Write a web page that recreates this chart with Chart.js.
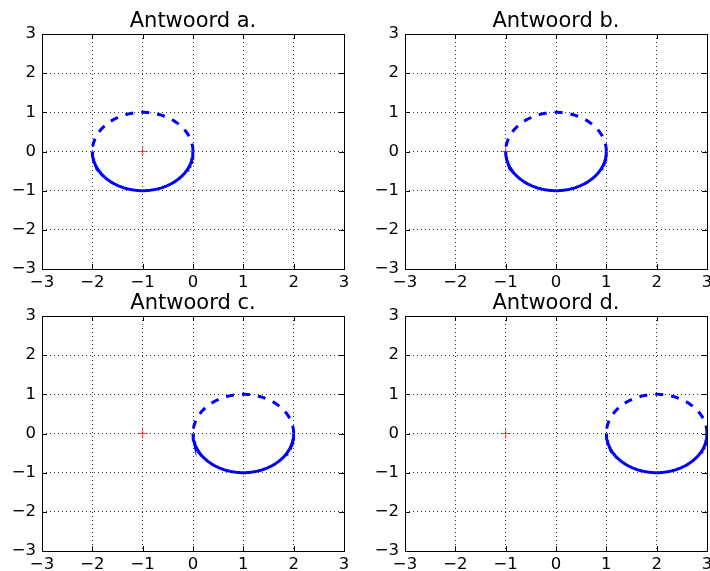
<!DOCTYPE html>
<html>
<head>
<meta charset="utf-8">
<script src="https://cdn.jsdelivr.net/npm/chart.js@4"></script>
<style>
  html, body { margin: 0; padding: 0; background: #fff; overflow: hidden; }
  body { width: 710px; height: 571px; position: relative; }
  canvas { position: absolute; }
</style>
</head>
<body>
<canvas id="panelA" width="355" height="289" style="left:0;top:0"></canvas>
<canvas id="panelB" width="355" height="289" style="left:363px;top:0"></canvas>
<canvas id="panelC" width="355" height="289" style="left:0;top:282px"></canvas>
<canvas id="panelD" width="355" height="289" style="left:363px;top:282px"></canvas>
<script>
// Data for the four panels
const panelIds = ['panelA', 'panelB', 'panelC', 'panelD'];
const panelTitles = ['Antwoord a.', 'Antwoord b.', 'Antwoord c.', 'Antwoord d.'];
const circleCentersX = [-1, 0, 1, 2];
const circleCenterY = 0;
const circleRadius = 1;
const markerX = -1;
const markerY = 0;
const tickValues = [-3, -2, -1, 0, 1, 2, 3];

const FONT = 'DejaVu Sans';

// Circle halves built from center and radius (upper goes right -> left)
const halfCircle = (cx, upper) => {
    const pts = [];
    const n = 90;
    for (let i = 0; i <= n; i++) {
        const t = Math.PI * i / n;
        const a = upper ? t : Math.PI + t;
        pts.push({ x: cx + circleRadius * Math.cos(a), y: circleCenterY + circleRadius * Math.sin(a) });
    }
    return pts;
};

const tickLabel = v => (v < 0 ? '\u2212' + Math.abs(v) : String(v));

// Axes frame + inward tick marks like classic matplotlib, title centred on the axes
const framePlugin = {
    id: 'frame',
    afterDraw(chart, args, opts) {
        const { ctx, chartArea: a, scales } = chart;
        ctx.save();
        ctx.strokeStyle = '#000';
        ctx.lineWidth = 1;
        ctx.beginPath();
        tickValues.forEach(v => {
            const px = Math.round(scales.x.getPixelForValue(v)) + 0.5;
            const py = Math.round(scales.y.getPixelForValue(v)) + 0.5;
            ctx.moveTo(px, a.bottom); ctx.lineTo(px, a.bottom - 5);
            ctx.moveTo(px, a.top); ctx.lineTo(px, a.top + 5);
            ctx.moveTo(a.left, py); ctx.lineTo(a.left + 5, py);
            ctx.moveTo(a.right, py); ctx.lineTo(a.right - 5, py);
        });
        ctx.stroke();
        ctx.strokeRect(Math.round(a.left) + 0.5, Math.round(a.top) + 0.5,
            Math.round(a.right - a.left), Math.round(a.bottom - a.top));

        // title
        ctx.fillStyle = '#000';
        ctx.font = '21px "' + FONT + '"';
        ctx.textAlign = 'center';
        ctx.textBaseline = 'alphabetic';
        ctx.fillText(opts.text, (a.left + a.right) / 2, a.top - 7);
        ctx.restore();
    }
};

const axisOptions = (isY) => ({
    type: 'linear',
    min: -3,
    max: 3,
    afterFit: scale => {
        if (isY) scale.width = 42; else scale.height = 20;
    },
    ticks: {
        stepSize: 1,
        padding: isY ? 6 : 4,
        color: '#000',
        font: { family: FONT, size: 16.5 },
        callback: v => tickLabel(v)
    },
    grid: {
        color: 'rgba(0,0,0,0.8)',
        lineWidth: 1,
        drawTicks: false
    },
    border: { display: false, dash: [1, 3] }
});

panelIds.forEach((id, i) => {
    new Chart(document.getElementById(id), {
        type: 'scatter',
        data: {
            datasets: [
                {
                    data: halfCircle(circleCentersX[i], true),
                    showLine: true,
                    borderColor: '#0000ff',
                    borderWidth: 3,
                    borderDash: [8, 8],
                    pointRadius: 0
                },
                {
                    data: halfCircle(circleCentersX[i], false),
                    showLine: true,
                    borderColor: '#0000ff',
                    borderWidth: 3,
                    pointRadius: 0
                },
                {
                    data: [{ x: markerX, y: markerY }],
                    pointStyle: 'cross',
                    pointRadius: 5,
                    borderWidth: 1,
                    borderColor: 'rgba(255,0,0,0.7)'
                }
            ]
        },
        options: {
            responsive: false,
            animation: false,
            layout: { padding: { top: 34, right: 11 } },
            plugins: {
                legend: { display: false },
                tooltip: { enabled: false },
                title: { display: false },
                frame: { text: panelTitles[i] }
            },
            scales: {
                x: axisOptions(false),
                y: axisOptions(true)
            }
        },
        plugins: [framePlugin]
    });
});
</script>
</body>
</html>
